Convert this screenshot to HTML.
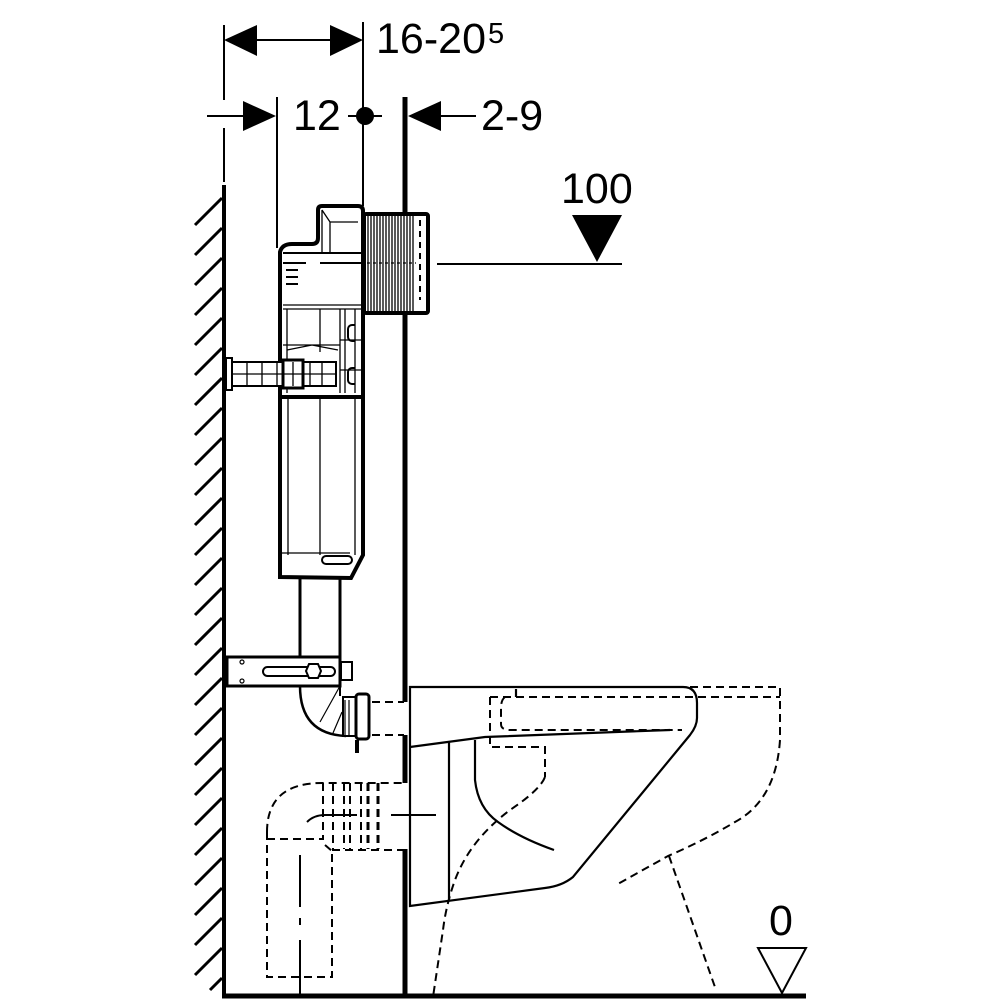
<!DOCTYPE html>
<html><head><meta charset="utf-8"><style>
html,body{margin:0;padding:0;background:#fff;}
svg{display:block;}
text{font-family:"Liberation Sans",sans-serif;fill:#000;}
</style></head><body>
<svg width="1000" height="1000" viewBox="0 0 1000 1000" xmlns="http://www.w3.org/2000/svg">
<g stroke="#000" fill="none" stroke-linecap="butt">
<line x1="224" y1="185" x2="224" y2="997" stroke-width="4"/>
<g stroke-width="3">
<path d="M195,225 L222,198 M195,255 L222,228 M195,285 L222,258 M195,315 L222,288 M195,345 L222,318 M195,375 L222,348 M195,405 L222,378 M195,435 L222,408 M195,465 L222,438 M195,495 L222,468 M195,525 L222,498 M195,555 L222,528 M195,585 L222,558 M195,615 L222,588 M195,645 L222,618 M195,675 L222,648 M195,705 L222,678 M195,735 L222,708 M195,765 L222,738 M195,795 L222,768 M195,825 L222,798 M195,855 L222,828 M195,885 L222,858 M195,915 L222,888 M195,945 L222,918 M195,975 L222,948 M210,990 L222,978"/>
</g>
<line x1="222" y1="996" x2="806" y2="996" stroke-width="5"/>
<path d="M405,97 L405,702 M405,735 L405,783 M405,849 L405,997" stroke-width="5"/>
<g stroke-width="2">
<line x1="224" y1="25" x2="224" y2="100"/>
<line x1="224" y1="128" x2="224" y2="182"/>
<line x1="363" y1="22" x2="363" y2="206"/>
<line x1="277" y1="97" x2="277" y2="248"/>
<line x1="257" y1="40" x2="330" y2="40"/>
<line x1="207" y1="116" x2="244" y2="116"/>
<line x1="348" y1="116" x2="382" y2="116"/>
<line x1="441" y1="116" x2="476" y2="116"/>
<line x1="437" y1="264" x2="622" y2="264"/>
</g>
</g>
<g fill="#000">
<polygon points="224,40 257,25 257,56"/>
<polygon points="363,40 330,25 330,56"/>
<polygon points="276,116 243,101 243,131"/>
<polygon points="408,116 441,101 441,131"/>
<circle cx="365" cy="116" r="9"/>
<polygon points="572,215 622,215 597,262"/>
</g>
<polygon points="758,948 806,948 782,993" fill="none" stroke="#000" stroke-width="2"/>
<text x="376" y="53" font-size="43">16-20</text>
<text x="488" y="43" font-size="29">5</text>
<text x="293" y="130" font-size="43">12</text>
<text x="481" y="130" font-size="43">2-9</text>
<text x="561" y="203" font-size="43">100</text>
<text x="769" y="935" font-size="43">0</text>

<g stroke="#000" fill="#fff">
<rect x="364" y="214" width="64" height="99" stroke-width="4" rx="2"/>
<path d="M280,577 L280,252 Q282,244 292,244 L312,244 Q318,244 318,238 L318,210 Q318,206 322,206 L358,206 Q363,206 363,211 L363,555 L351,578 Z" stroke-width="4"/>
</g>
<g stroke="#000" fill="none" stroke-width="1.3">
<path d="M368,216 V311 M371,216 V311 M374,216 V311 M377,216 V311 M380,216 V311 M383,216 V311 M386,216 V311 M389,216 V311 M392,216 V311 M395,216 V311 M398,216 V311 M401,216 V311 M404,216 V311 M407,216 V311 M410,216 V311 M413,216 V311"/>
<path d="M420,220 V300" stroke-dasharray="6,5" stroke-width="2"/>
<path d="M367,263 H416" stroke-dasharray="3,3"/>
<path d="M322,210 L330,222 L358,222 M330,222 V252 M322,210 V252"/>
<path d="M283,253 H361 M283,263 H306 M320,263 H361" stroke-width="2"/>
<path d="M286,270 H298 M286,277 H298 M286,284 H298" stroke-width="2"/>
<path d="M283,305 H361 M283,309 H361"/>
<path d="M287,309 V393 M320,309 V352 M340,309 V393 M345,309 V393 M355,309 V393"/>
<path d="M283,345 H340 M287,350 L312,345 L338,350 M340,340 H361 M340,370 H361"/>
<path d="M355,325 h-3 a4,4 0 0 0 -4,4 v8 a4,4 0 0 0 4,4 h3 M355,368 h-3 a4,4 0 0 0 -4,4 v8 a4,4 0 0 0 4,4 h3" stroke-width="2"/>
<path d="M280,397 H363" stroke-width="4"/>
<path d="M288,399 V555 M320,399 V555 M355,399 V555"/>
<path d="M282,553 H350" />
<rect x="322" y="556" width="30" height="8" rx="4" stroke-width="2"/>
</g>
<g stroke="#000" fill="#fff" stroke-width="2">
<rect x="226" y="358" width="6" height="32"/>
<rect x="232" y="362" width="104" height="24"/>
<rect x="283" y="360" width="20" height="28" stroke-width="3"/>
</g>
<g stroke="#000" stroke-width="1.3">
<path d="M232,374 H336 M247,362 V386 M262,362 V386 M277,362 V386 M293,362 V386 M310,362 V386 M322,362 V386"/>
</g>

<g stroke="#000" fill="none" stroke-width="3">
<path d="M300,578 V657 M340,578 V657"/>
<rect x="227" y="657" width="113" height="29" fill="#fff"/>
<rect x="341" y="662" width="11" height="18" fill="#fff" stroke-width="2"/>
<path d="M300,686 Q300,734 346,736" stroke-width="2.5"/>
<path d="M340,686 V696" stroke-width="2"/>
<rect x="343" y="697" width="14" height="39" fill="#fff" stroke-width="2"/>
<rect x="356" y="694" width="13" height="45" rx="3" fill="#fff" stroke-width="3"/>
<path d="M357,740 V753" stroke-width="4"/>
</g>
<g stroke="#000" fill="none" stroke-width="1.2">
<rect x="263" y="667" width="72" height="9" rx="4.5" stroke-width="2"/>
<polygon points="309,664 318,664 321,671 318,678 309,678 306,671" fill="#fff" stroke-width="2"/>
<circle cx="242" cy="662" r="2"/>
<circle cx="242" cy="681" r="2"/>
<path d="M340,686 L320,722 M342,712 L333,733 M345,700 V735 M349,700 V735"/>
</g>
<g stroke="#000" fill="none" stroke-width="2" stroke-dasharray="8,5">
<path d="M372,702 H404 M372,735 H404"/>
</g>

<g stroke="#000" fill="none" stroke-width="2" stroke-dasharray="8,5">
<path d="M267,832 V977 H332 V850"/>
<path d="M267,832 Q267,783 322,783 H404"/>
<path d="M267,839 H323 V783"/>
<path d="M332,850 H404"/>
<path d="M333,783 V849 M344,783 V849 M350,783 V849 M361,783 V849"/>
<path d="M368,783 V849 M378,783 V849" stroke-width="3"/>
<path d="M325,845 L332,851"/>
</g>
<g stroke="#000" fill="none" stroke-width="2">
<path d="M300,855 V907 M300,918 V925 M300,940 V995"/>
<path d="M307,822 Q314,815 325,815 H357 M391,815 H436"/>
</g>

<g stroke="#000" fill="none" stroke-width="2.2">
<path d="M410,687 H683 Q697,687 697,703 V718 Q697,726 690,735 L573,877 Q562,886 545,888 L410,906 Z"/>
<path d="M410,747 L485,737 L670,730"/>
<path d="M449,741 V900"/>
<path d="M475,740 V780 Q478,808 498,822 Q520,838 554,850"/>
<path d="M516,689 V697"/>
</g>
<g stroke="#000" fill="none" stroke-width="2" stroke-dasharray="8,5">
<path d="M690,687 H780 V740"/>
<path d="M780,740 Q776,800 735,822 Q705,840 668,856 L616,885"/>
<path d="M669,856 L716,990"/>
<path d="M490,697 H780"/>
<path d="M490,697 V747 H545 V777"/>
<path d="M545,777 Q540,790 510,810 Q470,840 455,880 Q446,905 443,930 L433,997"/>
<path d="M505,697 Q501,700 501,708 V724 Q501,730 510,730 H682"/>
</g>
</svg>
</body></html>
